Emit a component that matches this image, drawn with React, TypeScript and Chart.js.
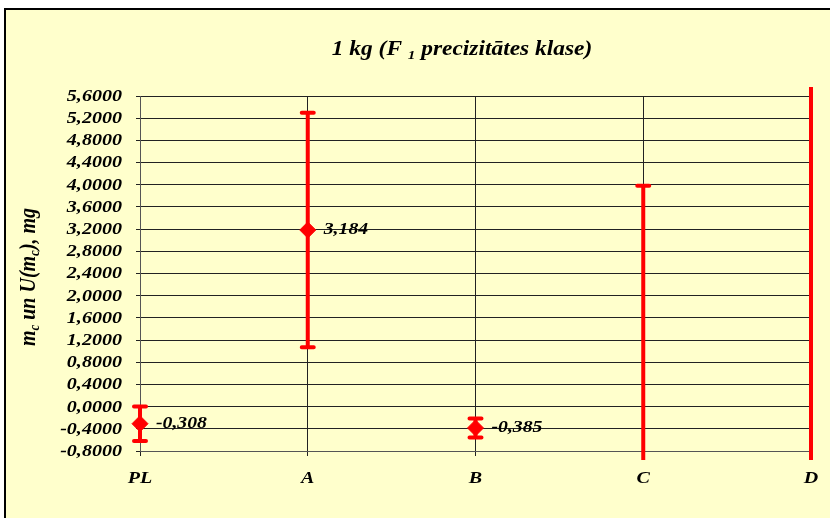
import React, { useEffect, useRef } from 'react';
import { Chart, registerables } from 'chart.js';

Chart.register(...registerables);

const categories = ['PL', 'A', 'B', 'C', 'D'];
const meanValues = [-0.308, 3.184, -0.385, -12.0, -15.0];
const uncertainties = [0.31, 2.115, 0.17, 15.98, 40.0];
const valueLabels = ['-0,308', '3,184', '-0,385', '', ''];
const yMin = -0.8;
const yMax = 5.6;
const yStep = 0.4;
const titleParts = [
  { t: '1 kg (F ' },
  { t: '1', sub: true },
  { t: ' precizitātes klase)' },
];
const yTitleParts = [
  { t: 'm' },
  { t: 'c', sub: true },
  { t: ' un U(m' },
  { t: 'c', sub: true },
  { t: '), mg' },
];

const FAMILY = "'Liberation Serif', 'Times New Roman', serif";
const RED = '#FF0000';
const SX = 1.18;

type Part = { t: string; sub?: boolean };

function fontOf(size: number) {
  return `italic bold ${size}px ${FAMILY}`;
}

function drawStretched(ctx: CanvasRenderingContext2D, text: string, x: number, y: number, size: number, sx: number, align: CanvasTextAlign, baseline: CanvasTextBaseline) {
  ctx.save();
  ctx.translate(x, y);
  ctx.scale(sx, 1);
  ctx.font = fontOf(size);
  ctx.textAlign = align;
  ctx.textBaseline = baseline;
  ctx.fillStyle = '#000';
  ctx.fillText(text, 0, 0);
  ctx.restore();
}

function drawRich(ctx: CanvasRenderingContext2D, parts: Part[], cx: number, baseY: number, size: number, sx: number) {
  const subSize = Math.round(size * 0.65);
  let total = 0;
  const widths: number[] = [];
  for (const p of parts) {
    ctx.font = fontOf(p.sub ? subSize : size);
    const w = ctx.measureText(p.t).width * sx;
    widths.push(w);
    total += w;
  }
  let x = cx - total / 2;
  parts.forEach((p, i) => {
    drawStretched(ctx, p.t, x, p.sub ? baseY + size * 0.18 : baseY, p.sub ? subSize : size, sx, 'left', 'alphabetic');
    x += widths[i];
  });
}

const decorPlugin = {
  id: 'decor',
  beforeDraw(chart: any) {
    const ctx = chart.ctx as CanvasRenderingContext2D;
    ctx.save();
    ctx.fillStyle = '#FFFFFF';
    ctx.fillRect(0, 0, chart.width, chart.height);
    ctx.fillStyle = '#FFFFCC';
    ctx.fillRect(5, 9, chart.width - 5, chart.height - 9);
    ctx.strokeStyle = '#000';
    ctx.lineWidth = 2;
    ctx.beginPath();
    ctx.moveTo(5, chart.height);
    ctx.lineTo(5, 9);
    ctx.lineTo(chart.width, 9);
    ctx.stroke();
    ctx.restore();
  },
  afterDraw(chart: any) {
    const ctx = chart.ctx as CanvasRenderingContext2D;
    const xs = chart.scales.x;
    const ys = chart.scales.y;
    ctx.save();
    drawRich(ctx, titleParts, 462, 55, 20, 1.17);
    // y tick labels
    ys.ticks.forEach((tk: any) => {
      const y = ys.getPixelForValue(tk.value);
      drawStretched(ctx, fmt(tk.value), 122, y + 0.5, 17, SX, 'right', 'middle');
    });
    // x category labels
    categories.forEach((c, i) => {
      const x = xs.getPixelForValue(i);
      drawStretched(ctx, c, x, 483, 17, SX, 'center', 'alphabetic');
    });
    // y axis title
    ctx.save();
    ctx.translate(35, 277);
    ctx.rotate(-Math.PI / 2);
    ctx.scale(1, 1.15);
    drawRich(ctx, yTitleParts, 0, 0, 20, 1);
    ctx.restore();
    ctx.restore();
  },
};

const errorBarPlugin = {
  id: 'errorBars',
  beforeDatasetsDraw(chart: any) {
    const ctx = chart.ctx as CanvasRenderingContext2D;
    const area = chart.chartArea;
    const xs = chart.scales.x;
    const ys = chart.scales.y;
    ctx.save();
    ctx.beginPath();
    ctx.rect(area.left - 20, area.top - 9, area.right - area.left + 40, area.bottom - area.top + 18);
    ctx.clip();
    ctx.strokeStyle = RED;
    ctx.lineWidth = 4;
    meanValues.forEach((v, i) => {
      const x = xs.getPixelForValue(i);
      const yTop = ys.getPixelForValue(v + uncertainties[i]);
      const yBot = ys.getPixelForValue(v - uncertainties[i]);
      ctx.lineCap = 'butt';
      ctx.beginPath();
      ctx.moveTo(x, yTop);
      ctx.lineTo(x, yBot);
      ctx.stroke();
      ctx.lineCap = 'round';
      ctx.beginPath();
      ctx.moveTo(x - 6, yTop);
      ctx.lineTo(x + 6, yTop);
      ctx.moveTo(x - 6, yBot);
      ctx.lineTo(x + 6, yBot);
      ctx.stroke();
    });
    ctx.restore();
  },
  afterDatasetsDraw(chart: any) {
    const ctx = chart.ctx as CanvasRenderingContext2D;
    const meta = chart.getDatasetMeta(0);
    valueLabels.forEach((lab, i) => {
      if (!lab) return;
      const pt = meta.data[i];
      drawStretched(ctx, lab, pt.x + 16, pt.y, 17, 1.16, 'left', 'middle');
    });
  },
};

function fmt(v: number) {
  const val = Math.abs(v) < 1e-9 ? 0 : v;
  return val.toFixed(4).replace('.', ',');
}

export default function App() {
  const ref = useRef<HTMLCanvasElement | null>(null);
  useEffect(() => {
    if (!ref.current) return;
    const chart = new Chart(ref.current, {
      type: 'line',
      data: {
        labels: categories,
        datasets: [
          {
            data: meanValues,
            showLine: false,
            pointStyle: 'rectRot',
            pointRadius: 8,
            pointBackgroundColor: RED,
            pointBorderColor: RED,
            pointBorderWidth: 1,
            clip: false as any,
          },
        ],
      },
      options: {
        animation: false,
        responsive: false,
        maintainAspectRatio: false,
        layout: { padding: { left: 0, top: 96, right: 19, bottom: 0 } },
        plugins: { legend: { display: false }, tooltip: { enabled: false }, title: { display: false } },
        scales: {
          x: {
            type: 'category',
            offset: false,
            grid: { color: '#222', lineWidth: 1, tickLength: 5, drawTicks: true },
            border: { color: '#555', width: 1 },
            ticks: { display: false, autoSkip: false, maxRotation: 0 },
            afterFit(scale: any) {
              scale.height = 518 - 451;
            },
          },
          y: {
            type: 'linear',
            min: yMin,
            max: yMax,
            grid: { color: '#222', lineWidth: 1, tickLength: 4 },
            border: { color: '#555', width: 1 },
            ticks: {
              display: false,
              stepSize: yStep,
              autoSkip: false,
              count: undefined,
            },
            afterFit(scale: any) {
              scale.width = 140;
            },
          },
        },
      },
      plugins: [decorPlugin, errorBarPlugin],
    });
    return () => chart.destroy();
  }, []);
  return (
    <div style={{ position: 'fixed', left: 0, top: 0, width: 830, height: 518 }}>
      <canvas ref={ref} width={830} height={518} style={{ width: 830, height: 518, display: 'block' }} />
    </div>
  );
}
